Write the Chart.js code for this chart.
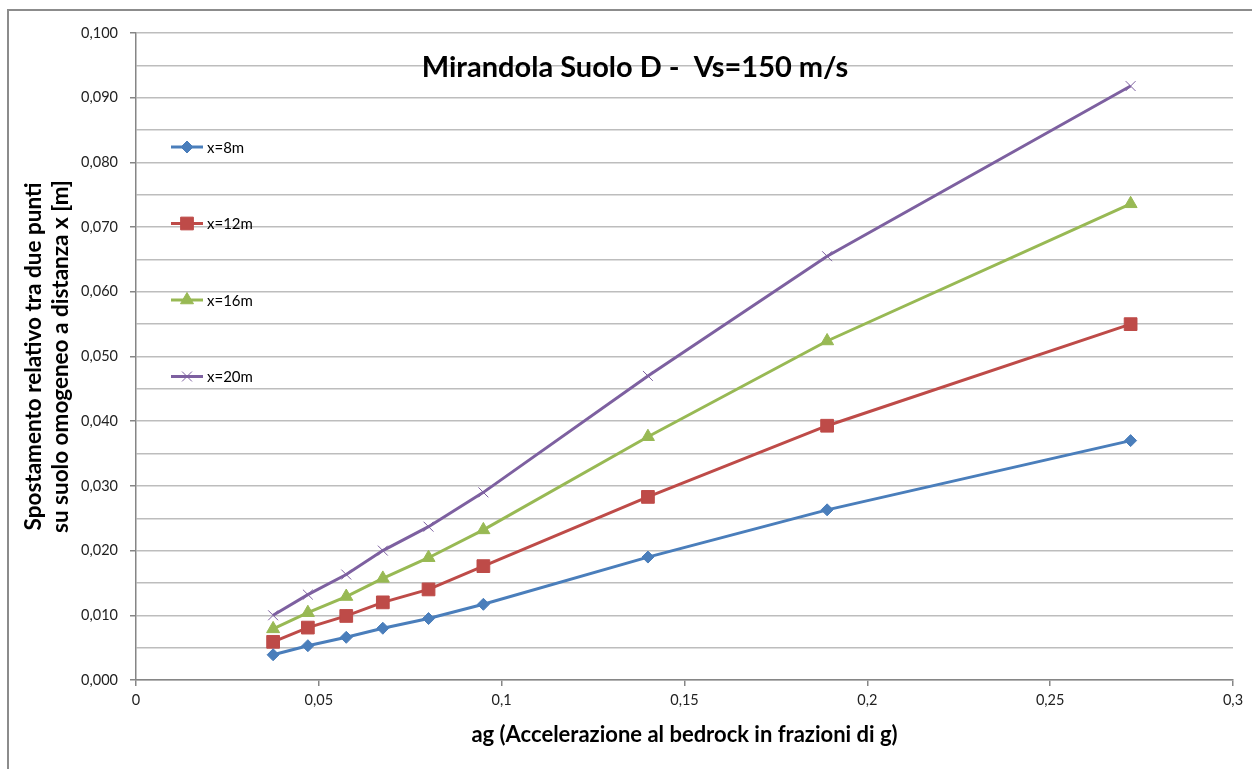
<!DOCTYPE html>
<html>
<head>
<meta charset="utf-8">
<script src="https://cdn.jsdelivr.net/npm/chart.js@4/dist/chart.umd.min.js"></script>
<style>
  html, body { margin: 0; padding: 0; background: #fff; }
  #wrap { width: 1252px; height: 769px; }
</style>
</head>
<body>
<div id="wrap"><canvas id="spostChart" width="1252" height="769"></canvas></div>
<script>
// ag values (fractions of g)
const agValues = [0.0375, 0.047, 0.0575, 0.0675, 0.08, 0.095, 0.14, 0.189, 0.272];

// relative displacement [m] per distance x
const seriesNames = ['x=8m', 'x=12m', 'x=16m', 'x=20m'];
const x8m  = [0.0039, 0.0053, 0.0066, 0.0080, 0.0095, 0.0117, 0.0190, 0.0263, 0.0370];
const x12m = [0.0059, 0.0081, 0.0099, 0.0120, 0.0140, 0.0176, 0.0283, 0.0393, 0.0550];
const x16m = [0.0079, 0.0104, 0.0129, 0.0157, 0.0189, 0.0232, 0.0376, 0.0524, 0.0736];
const x20m = [0.0100, 0.0132, 0.0163, 0.0200, 0.0237, 0.0290, 0.0470, 0.0655, 0.0918];

const chartTitle = 'Mirandola Suolo D -  Vs=150 m/s';
const xTitle = 'ag (Accelerazione al bedrock in frazioni di g)';
const yTitle = ['Spostamento relativo tra due punti', 'su suolo omogeneo a distanza x [m]'];

const FONT = 'Lato, "Open Sans", sans-serif';

function toPoints(ys) {
  return ys.map((y, i) => ({ x: agValues[i], y: y }));
}

function commaNum(v, digits) {
  return Number(v.toFixed(digits)).toString().replace('.', ',');
}

const frame = {
  id: 'frame',
  beforeDraw(chart) {
    const ctx = chart.ctx;
    ctx.save();
    ctx.fillStyle = '#fff';
    ctx.fillRect(0, 0, chart.width, chart.height);
    ctx.strokeStyle = '#8c8c8c';
    ctx.lineWidth = 2;
    ctx.strokeRect(8, 10, chart.width + 20, chart.height + 20);
    ctx.restore();
  }
};

const overlay = {
  id: 'overlay',
  afterDatasetsDraw(chart) {
    const ctx = chart.ctx;
    const area = chart.chartArea;
    ctx.save();
    // title sits inside the plot area
    ctx.fillStyle = '#000';
    ctx.font = 'bold 29px ' + FONT;
    ctx.textAlign = 'center';
    ctx.textBaseline = 'middle';
    ctx.fillText(chartTitle, 635, area.top + 35);

    // legend, stacked down the left side
    ctx.font = '15px ' + FONT;
    ctx.textAlign = 'left';
    chart.data.datasets.forEach((ds, i) => {
      const y = area.top + 114 + i * 76.5;
      const x0 = area.left + 35;
      ctx.strokeStyle = ds.borderColor;
      ctx.lineWidth = 3;
      ctx.beginPath();
      ctx.moveTo(x0, y);
      ctx.lineTo(x0 + 32, y);
      ctx.stroke();
      if (Chart.helpers && Chart.helpers.drawPoint) {
        ctx.fillStyle = ds.pointBackgroundColor;
        ctx.strokeStyle = ds.pointBorderColor;
        ctx.lineWidth = ds.pointBorderWidth;
        Chart.helpers.drawPoint(ctx, {
          pointStyle: ds.pointStyle,
          radius: ds.pointRadius,
          rotation: 0,
          borderWidth: ds.pointBorderWidth
        }, x0 + 16, y);
      }
      ctx.fillStyle = '#000';
      ctx.fillText(ds.label, x0 + 36, y + 1);
    });
    ctx.restore();
  }
};

function makeSet(label, ys, color, style, radius, pbw) {
  return {
    label: label,
    data: toPoints(ys),
    borderColor: color,
    backgroundColor: color,
    borderWidth: 3,
    pointStyle: style,
    pointRadius: radius,
    pointHoverRadius: radius,
    pointBackgroundColor: color,
    pointBorderColor: color,
    pointBorderWidth: pbw,
    tension: 0
  };
}

const canvas = document.getElementById('spostChart');
new Chart(canvas.getContext('2d'), {
  type: 'line',
  data: {
    datasets: [
      makeSet(seriesNames[0], x8m, '#4a7ebb', 'rectRot', 6, 1),
      makeSet(seriesNames[1], x12m, '#be4b48', 'rect', 9, 1),
      makeSet(seriesNames[2], x16m, '#98b954', 'triangle', 7.5, 1),
      makeSet(seriesNames[3], x20m, '#7d60a0', 'crossRot', 7, 1)
    ]
  },
  options: {
    responsive: false,
    animation: false,
    layout: { padding: { left: 8, top: 33, right: 19, bottom: 0 } },
    plugins: {
      legend: { display: false },
      title: { display: false },
      tooltip: { enabled: false }
    },
    scales: {
      x: {
        type: 'linear',
        min: 0,
        max: 0.3,
        afterFit(scale) { scale.height = 89; },
        ticks: {
          stepSize: 0.05,
          color: '#222',
          font: { family: FONT, size: 14.5 },
          padding: 6,
          maxRotation: 0,
          callback: v => commaNum(v, 2)
        },
        grid: { drawOnChartArea: false, color: '#868686', tickLength: 6, lineWidth: 1.5 },
        border: { color: '#868686', width: 1.5 },
        title: {
          display: true,
          text: xTitle,
          color: '#000',
          font: { family: FONT, size: 22, weight: 'bold' },
          padding: { top: 4, bottom: 21 }
        }
      },
      y: {
        min: 0,
        max: 0.1,
        afterFit(scale) { scale.width = 128; },
        ticks: {
          stepSize: 0.005,
          color: '#222',
          font: { family: FONT, size: 14.5 },
          padding: 12,
          callback: (v, i) => (i % 2 === 0 ? v.toFixed(3).replace('.', ',') : '')
        },
        grid: {
          color: '#bdbdbd',
          lineWidth: 1.5,
          tickLength: 6,
          tickColor: ctx => (ctx.index % 2 === 0 ? '#868686' : 'rgba(0,0,0,0)')
        },
        border: { color: '#868686', width: 1.5 },
        title: {
          display: true,
          text: yTitle,
          color: '#000',
          font: { family: FONT, size: 22.5, weight: 'bold', lineHeight: 1.2 },
          padding: { top: 12 }
        }
      }
    }
  },
  plugins: [frame, overlay]
});
</script>
</body>
</html>
